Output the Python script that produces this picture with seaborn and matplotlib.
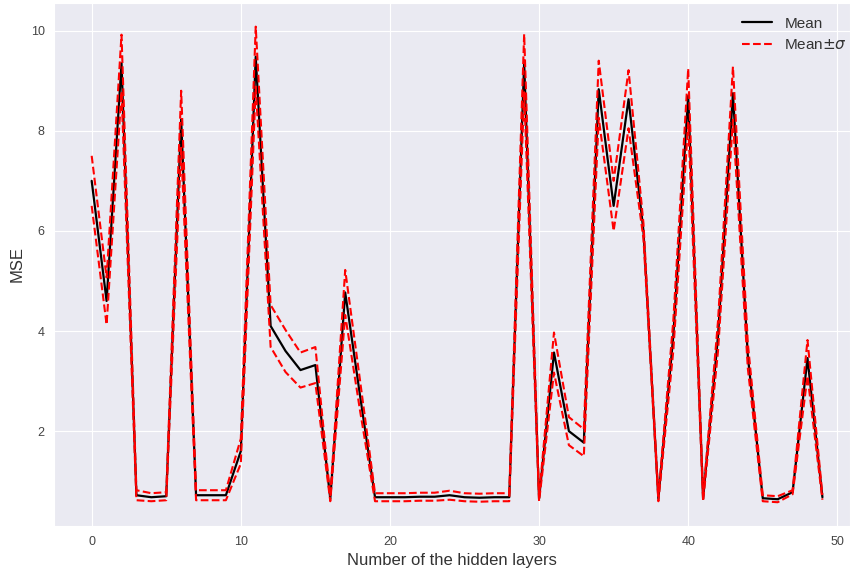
import numpy as np
import pandas as pd
import matplotlib
matplotlib.use("Agg")
import matplotlib.pyplot as plt
import seaborn as sns

# Number of hidden layers (x) and the MSE statistics
layers = list(range(50))

mse_mean = [
    7.00, 4.60, 9.35, 0.72, 0.68, 0.70, 8.23, 0.72, 0.72, 0.72,
    1.60, 9.48, 4.10, 3.60, 3.22, 3.32, 0.65, 4.77, 2.70, 0.68,
    0.68, 0.68, 0.69, 0.69, 0.72, 0.68, 0.67, 0.68, 0.68, 9.35,
    0.65, 3.57, 2.00, 1.77, 8.83, 6.50, 8.63, 6.00, 0.65, 3.90,
    8.70, 0.65, 3.90, 8.75, 3.50, 0.66, 0.64, 0.78, 3.46, 0.68,
]

mse_std = [
    0.50, 0.47, 0.57, 0.10, 0.08, 0.08, 0.57, 0.10, 0.10, 0.10,
    0.25, 0.60, 0.42, 0.42, 0.35, 0.36, 0.05, 0.45, 0.30, 0.08,
    0.08, 0.08, 0.08, 0.08, 0.09, 0.08, 0.08, 0.08, 0.08, 0.58,
    0.05, 0.40, 0.28, 0.27, 0.57, 0.50, 0.58, 0.15, 0.05, 0.30,
    0.54, 0.05, 0.30, 0.53, 0.25, 0.06, 0.06, 0.04, 0.36, 0.05,
]

sns.set_style("darkgrid")
plt.rcParams["font.family"] = ["Liberation Sans", "DejaVu Sans"]

df = pd.DataFrame({"layers": layers, "mean": mse_mean, "std": mse_std})
df["upper"] = df["mean"] + df["std"]
df["lower"] = df["mean"] - df["std"]

fig = plt.figure(figsize=(8.5, 5.73), dpi=100)
ax = fig.add_axes([0.064, 0.082, 0.936, 0.913])

sns.lineplot(data=df, x="layers", y="mean", color="black", linewidth=1.6,
             label="Mean", ax=ax)
sns.lineplot(data=df, x="layers", y="upper", color="red", linewidth=1.5,
             linestyle="--", label=r"Mean$\pm\sigma$", ax=ax)
sns.lineplot(data=df, x="layers", y="lower", color="red", linewidth=1.5,
             linestyle="--", ax=ax)

ax.set_xlim(-2.5, 50.85)
ax.set_xticks([0, 10, 20, 30, 40, 50])
ax.set_yticks([2, 4, 6, 8, 10])
ax.tick_params(labelsize=9, colors="#444444")
ax.set_xlabel("Number of the hidden layers", fontsize=12, color="#333333")
ax.set_ylabel("MSE", fontsize=12, color="#333333")

leg = ax.legend(loc="upper right", bbox_to_anchor=(1.014, 1.0),
                frameon=False, fontsize=11)
for t in leg.get_texts():
    t.set_color("#333333")

fig.savefig("out.png", dpi=100, facecolor="white")
plt.close(fig)
